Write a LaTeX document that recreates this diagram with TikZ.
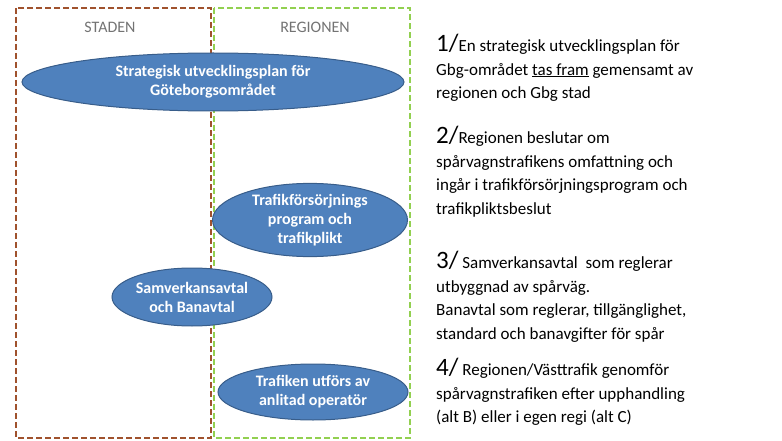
\documentclass[tikz,border=0pt]{standalone}
\usepackage{fontspec}
\setmainfont{Carlito}
\usetikzlibrary{shapes.geometric}
\definecolor{stadbrun}{HTML}{A0522D}
\definecolor{regiongron}{HTML}{92D050}
\definecolor{ellfyll}{HTML}{4F81BD}
\definecolor{ellkant}{HTML}{385D8A}
\tikzset{
	every step/.style={
		ellipse,
		fill=ellfyll,
		draw=ellkant,
		line width=1pt,
		text=white,
		align=center,
		inner sep=0pt,
		font=\fontsize{16}{19}\selectfont\bfseries
	},
	zone label/.style={
		text=black!55,
		font=\fontsize{16}{19}\selectfont
	},
	step text/.style={
		anchor=north west,
		align=left,
		inner sep=0pt,
		font=\fontsize{17}{23.5}\selectfont
	},
	zone/.style={
		dash pattern=on 6pt off 3pt,
		line width=1.3pt
	},
}
\newcommand{\stepnr}[1]{{\fontsize{25}{23.5}\selectfont #1}}

\begin{document}
\begin{tikzpicture}[x=1pt,y=-1pt]
\useasboundingbox (0,0) rectangle (782,441);

\draw[stadbrun,zone] (16,8) rectangle (211,438);
\draw[regiongron,zone] (214,8) rectangle (410,438);
\node[zone label] (staden) at (110,27) {STADEN};
\node[zone label] (regionen) at (315,27) {REGIONEN};

\node[every step,minimum width=382pt,minimum height=58pt] (plan) at (213,82)
	{Strategisk utvecklingsplan för\\Göteborgsområdet};
\node[every step,minimum width=195pt,minimum height=62pt] (trafik) at (310,220)
	{Trafikförsörjnings\\program och\\trafikplikt};
\node[every step,minimum width=160pt,minimum height=58pt] (avtal) at (192,297)
	{Samverkansavtal\\och Banavtal};
\node[every step,minimum width=190pt,minimum height=56pt] (utfor) at (313,392)
	{Trafiken utförs av\\anlitad operatör};

\node[step text] (steg1) at (436,34)
	{\stepnr{1/}En strategisk utvecklingsplan för\\Gbg-området \underline{tas fram} gemensamt av\\regionen och Gbg stad};
\node[step text] (steg2) at (436,126)
	{\stepnr{2/}Regionen beslutar om\\spårvagnstrafikens omfattning och\\ingår i trafikförsörjningsprogram och\\trafikpliktsbeslut};
\node[step text] (steg3) at (436,251)
	{\stepnr{3/} Samverkansavtal\ \ som reglerar\\utbyggnad av spårväg.\\Banavtal som reglerar, tillgänglighet,\\standard och banavgifter för spår};
\node[step text] (steg4) at (436,358)
	{\stepnr{4/} Regionen/Västtrafik genomför\\spårvagnstrafiken efter upphandling\\(alt B) eller i egen regi (alt C)};
\end{tikzpicture}
\end{document}
